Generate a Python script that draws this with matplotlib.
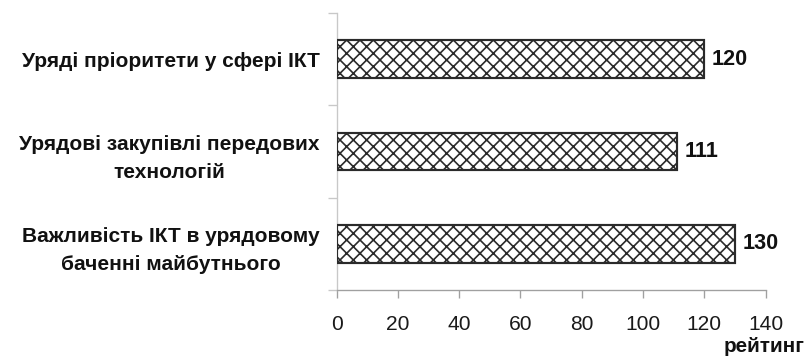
import matplotlib
matplotlib.use("Agg")
import matplotlib.pyplot as plt
import numpy as np

categories = [
    "Уряді пріоритети у сфері ІКТ",
    "Урядові закупівлі передових\nтехнологій",
    "Важливість ІКТ в урядовому\nбаченні майбутнього",
]
values = [120, 111, 130]
xticks = [0, 20, 40, 60, 80, 100, 120, 140]
xlabel = "рейтинг"

plt.rcParams["font.family"] = ["Liberation Sans", "DejaVu Sans"]
plt.rcParams["hatch.linewidth"] = 1.0
plt.rcParams["hatch.color"] = "#4a4a4a"

DPI = 120
fig = plt.figure(figsize=(812 / DPI, 356 / DPI), dpi=DPI)
ax = fig.add_axes([336.5 / 812, 1 - 290 / 356, (765.5 - 336.5) / 812, (290 - 13) / 356])

n = len(categories)
ypos = np.arange(n)[::-1]
bars = ax.barh(ypos, values, height=0.41, color="white", edgecolor="#2a2a2a",
               linewidth=1.3, hatch="xxx", zorder=3)
ax.bar_label(bars, labels=[str(v) for v in values], padding=4.5,
             fontsize=13.0, fontweight="bold", color="#111111")

ax.set_xlim(0, 140)
ax.set_ylim(-0.5, n - 0.5)
ax.set_xticks(xticks)
ax.set_xticklabels([str(t) for t in xticks], fontsize=12.6, color="#1a1a1a")
ax.tick_params(axis="x", direction="out", length=4.5, width=0.8, color="#a0a0a0", pad=10.5)

ax.set_yticks(ypos)
ax.set_yticklabels(categories, fontsize=12.5, fontweight="bold", color="#111111",
                   multialignment="center", linespacing=1.6)
ax.tick_params(axis="y", which="major", length=0, pad=10)
ax.set_yticks(np.arange(-0.5, n, 1.0), minor=True)
ax.tick_params(axis="y", which="minor", direction="out", length=5.4, width=0.8, color="#c8c8c8")

for s in ["top", "right"]:
    ax.spines[s].set_visible(False)
ax.spines["left"].set_color("#c8c8c8")
ax.spines["left"].set_linewidth(0.8)
ax.spines["bottom"].set_color("#a0a0a0")
ax.spines["bottom"].set_linewidth(0.8)

fig.text(804 / 812, 1 - 352 / 356, xlabel, ha="right", va="baseline",
         fontsize=12.4, fontweight="bold", color="#111111")

fig.savefig("out.png", dpi=DPI)
